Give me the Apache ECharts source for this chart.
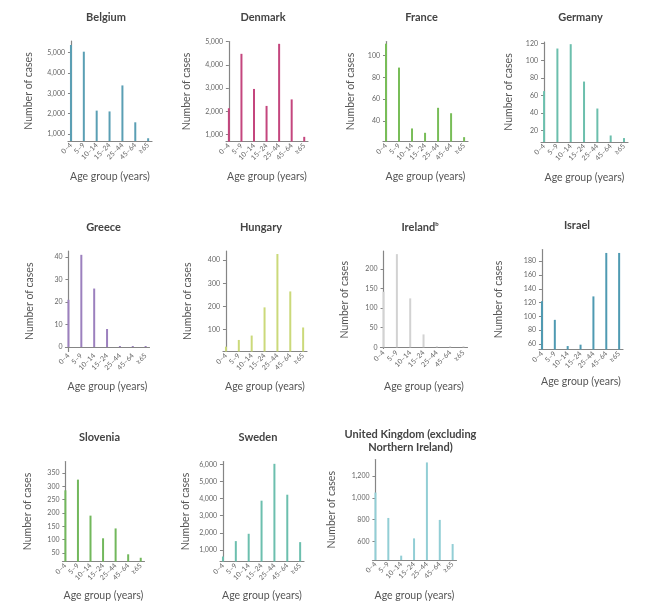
<!DOCTYPE html>
<html>
<head>
<meta charset="utf-8">
<script src="https://cdn.jsdelivr.net/npm/echarts@6/dist/echarts.min.js"></script>
<style>
html,body{margin:0;padding:0;background:#fff;}
#chart{width:653px;height:611px;}
</style>
</head>
<body>
<div id="chart"></div>
<script>
// ---- Data ----
const ageGroups = ['0–4', '5–9', '10–14', '15–24', '25–44', '45–64', '≥65'];
const countries = ['Belgium', 'Denmark', 'France', 'Germany', 'Greece', 'Hungary', 'Ireland', 'Israel', 'Slovenia', 'Sweden', 'United Kingdom (excluding\nNorthern Ireland)'];

const belgium  = [5380, 5050, 2150, 2110, 3390, 1575, 790];
const denmark  = [2130, 4470, 2960, 2230, 4900, 2510, 900];
const france   = [111, 89, 33, 29, 52, 47, 25];
const germany  = [65, 114, 119, 76, 45, 14, 11];
const greece   = [21, 41, 26, 8, 0, 0, 0];
const hungary  = [26, 55, 74, 196, 427, 265, 109];
const ireland  = [142, 238, 125, 33, 0, 0, 0];
const israel   = [122, 95, 57, 59, 129, 192, 192];
const slovenia = [285, 325, 190, 105, 142, 45, 32];
const sweden   = [608, 1510, 1940, 3880, 6040, 4230, 1450];
const uk       = [1049, 815, 468, 627, 1326, 797, 575];

// y tick labels per panel
const belgiumTicks  = [1000, 2000, 3000, 4000, 5000];
const denmarkTicks  = [1000, 2000, 3000, 4000, 5000];
const franceTicks   = [40, 60, 80, 100];
const germanyTicks  = [20, 40, 60, 80, 100, 120];
const greeceTicks   = [0, 10, 20, 30, 40];
const hungaryTicks  = [100, 200, 300, 400];
const irelandTicks  = [0, 50, 100, 150, 200];
const israelTicks   = [60, 80, 100, 120, 140, 160, 180];
const sloveniaTicks = [50, 100, 150, 200, 250, 300, 350];
const swedenTicks   = [1000, 2000, 3000, 4000, 5000, 6000];
const ukTicks       = [600, 800, 1000, 1200];

// y axis ranges [min, max]
const belgiumRange  = [655, 5576];
const denmarkRange  = [700, 5000];
const franceRange   = [21, 113];
const germanyRange  = [6.5, 121.5];
const greeceRange   = [-2, 42.7];
const hungaryRange  = [5, 440];
const irelandRange  = [-3, 246];
const israelRange   = [52, 197];
const sloveniaRange = [18, 393];
const swedenRange   = [315, 6176];
const ukRange       = [428, 1353];

const seriesValues = [belgium, denmark, france, germany, greece, hungary, ireland, israel, slovenia, sweden, uk];
const tickValues = [belgiumTicks, denmarkTicks, franceTicks, germanyTicks, greeceTicks, hungaryTicks, irelandTicks, israelTicks, sloveniaTicks, swedenTicks, ukTicks];
const ranges = [belgiumRange, denmarkRange, franceRange, germanyRange, greeceRange, hungaryRange, irelandRange, israelRange, sloveniaRange, swedenRange, ukRange];

// ---- Layout / style (not data) ----
const colors = ['#5a9fb4', '#c4467e', '#78bd58', '#6cbfad', '#9c80be', '#cbd97a', '#d2d2d2', '#4f9ab2', '#72b85c', '#6cbfae', '#92ced5'];
// [gridLeft, gridTop, gridWidth, gridHeight, titleCenterY, yNameGap, xNameGap]
const layout = [
  [68, 41, 84, 100, 18, 34, 30],
  [226, 41.5, 82, 100, 18, 34, 30],
  [383, 41.5, 85, 100, 18, 27, 30],
  [541, 42, 87, 100, 18, 27, 30],
  [65.5, 251, 84, 100.5, 228, 30, 30],
  [223, 251, 84, 100.5, 228, 30, 30],
  [380.5, 251, 87, 97.5, 228, 30, 33],
  [539, 249.5, 84, 100, 226, 35, 27],
  [62.5, 461.5, 82, 100, 438, 29, 29],
  [220, 461.5, 84, 100, 438, 29, 29],
  [372.5, 459.5, 84, 100.5, 441, 35, 30]
];

const FONT = 'Lato';
const grids = [], xAxes = [], yAxes = [], series = [], titles = [];

countries.forEach((name, i) => {
  const [l, t, w, h, tyc, yGap, xGap] = layout[i];
  grids.push({ left: l, top: t, width: w, height: h, containLabel: false });
  xAxes.push({
    type: 'value', gridIndex: i, min: -0.23, max: 6.3,
    name: 'Age group (years)', nameLocation: 'middle', nameGap: xGap,
    nameTextStyle: { fontFamily: FONT, fontSize: 10.5, color: '#555' },
    axisLine: { show: true, lineStyle: { color: '#858585', width: 1.2 } },
    axisTick: { show: false },
    splitLine: { show: false },
    axisLabel: {
      customValues: ageGroups.map((g, k) => k),
      formatter: v => ageGroups[v],
      rotate: 45, fontSize: 7, fontFamily: FONT, color: '#666', margin: 3
    }
  });
  const rng = ranges[i];
  yAxes.push({
    type: 'value', gridIndex: i, min: rng[0], max: rng[1],
    name: 'Number of cases', nameLocation: 'middle', nameGap: yGap,
    nameTextStyle: { fontFamily: FONT, fontSize: 10.5, color: '#555' },
    axisLine: { show: true, lineStyle: { color: '#858585', width: 1.2 } },
    axisTick: { show: true, length: 3, customValues: tickValues[i], lineStyle: { color: '#858585' } },
    splitLine: { show: false },
    axisLabel: {
      customValues: tickValues[i],
      formatter: v => v.toLocaleString('en-US'),
      fontSize: 7, fontFamily: FONT, color: '#666', margin: 3
    }
  });
  series.push({
    type: 'bar', xAxisIndex: i, yAxisIndex: i,
    data: seriesValues[i].map((v, k) => [k, v]),
    barWidth: 2, barMinHeight: 1,
    itemStyle: { color: colors[i] },
    silent: true, animation: false
  });
  const cx = l + w / 2 - 4;
  const multi = name.indexOf('\n') >= 0;
  const top = multi ? tyc - 12.5 : tyc - 6.5;
  if (name === 'Ireland') {
    titles.push({
      text: '{a|Ireland}{b|b}', left: cx, top: top, textAlign: 'center', padding: 0,
      textStyle: { rich: {
        a: { fontFamily: FONT, fontSize: 11, fontWeight: 'bold', color: '#444' },
        b: { fontFamily: FONT, fontSize: 6, fontWeight: 'bold', color: '#444', padding: [0, 0, 5, 0] }
      } }
    });
  } else {
    titles.push({
      text: name, left: cx, top: top, textAlign: 'center', padding: 0,
      textStyle: { fontFamily: FONT, fontSize: 11, fontWeight: 'bold', color: '#444', lineHeight: 12.5 }
    });
  }
});

const chart = echarts.init(document.getElementById('chart'), null, { renderer: 'canvas' });
chart.setOption({
  animation: false,
  backgroundColor: '#fff',
  title: titles,
  grid: grids,
  xAxis: xAxes,
  yAxis: yAxes,
  series: series
});
</script>
</body>
</html>
